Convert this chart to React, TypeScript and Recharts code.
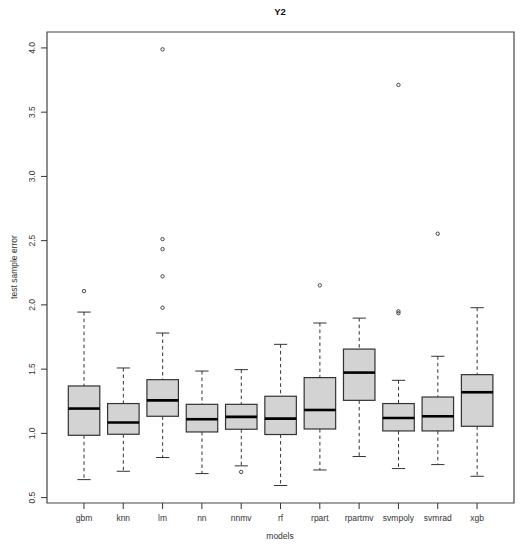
import React from 'react';
import { ComposedChart, Bar, Scatter, XAxis, YAxis, ReferenceArea } from 'recharts';

const MODELS = ['gbm', 'knn', 'lm', 'nn', 'nnmv', 'rf', 'rpart', 'rpartmv', 'svmpoly', 'svmrad', 'xgb'];
const WHISKER_LOW = [0.64, 0.705, 0.812, 0.687, 0.747, 0.594, 0.715, 0.82, 0.726, 0.757, 0.666];
const Q1 = [0.985, 0.993, 1.133, 1.011, 1.032, 0.991, 1.034, 1.257, 1.019, 1.019, 1.055];
const MEDIAN = [1.193, 1.084, 1.257, 1.11, 1.128, 1.115, 1.182, 1.473, 1.12, 1.133, 1.32];
const Q3 = [1.369, 1.232, 1.418, 1.226, 1.226, 1.289, 1.434, 1.656, 1.232, 1.283, 1.457];
const WHISKER_HIGH = [1.944, 1.509, 1.781, 1.485, 1.496, 1.693, 1.859, 1.897, 1.413, 1.6, 1.978];

const OUTLIER_MODEL = ['gbm', 'lm', 'lm', 'lm', 'lm', 'lm', 'nnmv', 'rpart', 'svmpoly', 'svmpoly', 'svmpoly', 'svmrad'];
const OUTLIER_VALUE = [2.107, 1.978, 2.222, 2.434, 2.512, 3.989, 0.7, 2.152, 1.935, 1.95, 3.712, 2.554];

const Y_TICKS = [0.5, 1.0, 1.5, 2.0, 2.5, 3.0, 3.5, 4.0];

const W = 527;
const H = 550;
const FONT = '"Liberation Sans", Arial, sans-serif';
const INK = '#333';

// boxes on numeric positions 1..n like R's boxplot
const boxRows = MODELS.map((name, i) => ({
  name,
  pos: i + 1,
  span: [WHISKER_LOW[i], WHISKER_HIGH[i]],
  lo: WHISKER_LOW[i],
  q1: Q1[i],
  med: MEDIAN[i],
  q3: Q3[i],
  hi: WHISKER_HIGH[i],
}));

const outlierRows = OUTLIER_MODEL.map((m, i) => ({
  pos: MODELS.indexOf(m) + 1,
  value: OUTLIER_VALUE[i],
}));

const BoxShape = (props: any) => {
  const { x, y, width, height, payload } = props;
  const { lo, q1, med, q3, hi } = payload;
  const toY = (v: number) => y + (height * (hi - v)) / (hi - lo);
  const cx = x + width / 2;
  const cap = width * 0.21;
  return (
    <g>
      <line x1={cx} x2={cx} y1={toY(hi)} y2={toY(q3)} stroke={INK} strokeDasharray="3.5 3" />
      <line x1={cx} x2={cx} y1={toY(q1)} y2={toY(lo)} stroke={INK} strokeDasharray="3.5 3" />
      <line x1={cx - cap} x2={cx + cap} y1={toY(hi)} y2={toY(hi)} stroke={INK} />
      <line x1={cx - cap} x2={cx + cap} y1={toY(lo)} y2={toY(lo)} stroke={INK} />
      <rect x={x} y={toY(q3)} width={width} height={toY(q1) - toY(q3)} fill="#d3d3d3" stroke={INK} strokeWidth={1.2} />
      <line x1={x} x2={x + width} y1={toY(med)} y2={toY(med)} stroke="#000" strokeWidth={2.6} />
    </g>
  );
};

const OutlierDot = (props: any) => (
  <circle cx={props.cx} cy={props.cy} r={1.7} fill="none" stroke={INK} strokeWidth={0.9} />
);

const YTick = (props: any) => {
  const { x, y, payload } = props;
  return (
    <text
      x={x - 4}
      y={y}
      transform={`rotate(-90 ${x - 4} ${y})`}
      textAnchor="middle"
      fontSize={8.5}
      fill={INK}
      fontFamily={FONT}
    >
      {payload.value.toFixed(1)}
    </text>
  );
};

export default function App() {
  return (
    <div style={{ position: 'absolute', left: 0, top: 0, width: W, height: H, background: '#fff', fontFamily: FONT }}>
      <ComposedChart
        width={W}
        height={H}
        data={boxRows}
        margin={{ top: 32, right: 13, bottom: 0, left: 0 }}
        style={{ fontFamily: FONT }}
      >
        <XAxis
          dataKey="pos"
          type="number"
          domain={[0.06, 11.94]}
          allowDataOverflow
          ticks={boxRows.map((r) => r.pos)}
          tickFormatter={(v) => MODELS[v - 1]}
          height={47}
          axisLine={false}
          tickSize={6}
          tickMargin={6}
          tickLine={{ stroke: INK }}
          tick={{ fontSize: 8.5, fill: INK }}
          interval={0}
        />
        <YAxis
          type="number"
          domain={[0.458, 4.124]}
          allowDataOverflow
          ticks={Y_TICKS}
          width={47}
          axisLine={false}
          tickSize={6}
          tickLine={{ stroke: INK }}
          tick={<YTick />}
        />
        <ReferenceArea x1={0.06} x2={11.94} y1={0.458} y2={4.124} fill="none" stroke="#444" strokeWidth={1.2} ifOverflow="visible" />
        <Bar dataKey="span" barSize={31.5} shape={<BoxShape />} isAnimationActive={false} />
        <Scatter data={outlierRows} dataKey="value" shape={<OutlierDot />} isAnimationActive={false} />
      </ComposedChart>
      <div style={{ position: 'absolute', left: 0, width: 560, top: 6, textAlign: 'center', fontSize: 9.5, fontWeight: 'bold', color: '#111' }}>
        Y2
      </div>
      <div style={{ position: 'absolute', left: 0, width: 560, top: 531, textAlign: 'center', fontSize: 8.5, color: INK }}>
        models
      </div>
      <div
        style={{
          position: 'absolute',
          left: 14,
          top: 267,
          transform: 'translate(-50%, -50%) rotate(-90deg)',
          whiteSpace: 'nowrap',
          fontSize: 8.5,
          color: INK,
        }}
      >
        test sample error
      </div>
    </div>
  );
}
